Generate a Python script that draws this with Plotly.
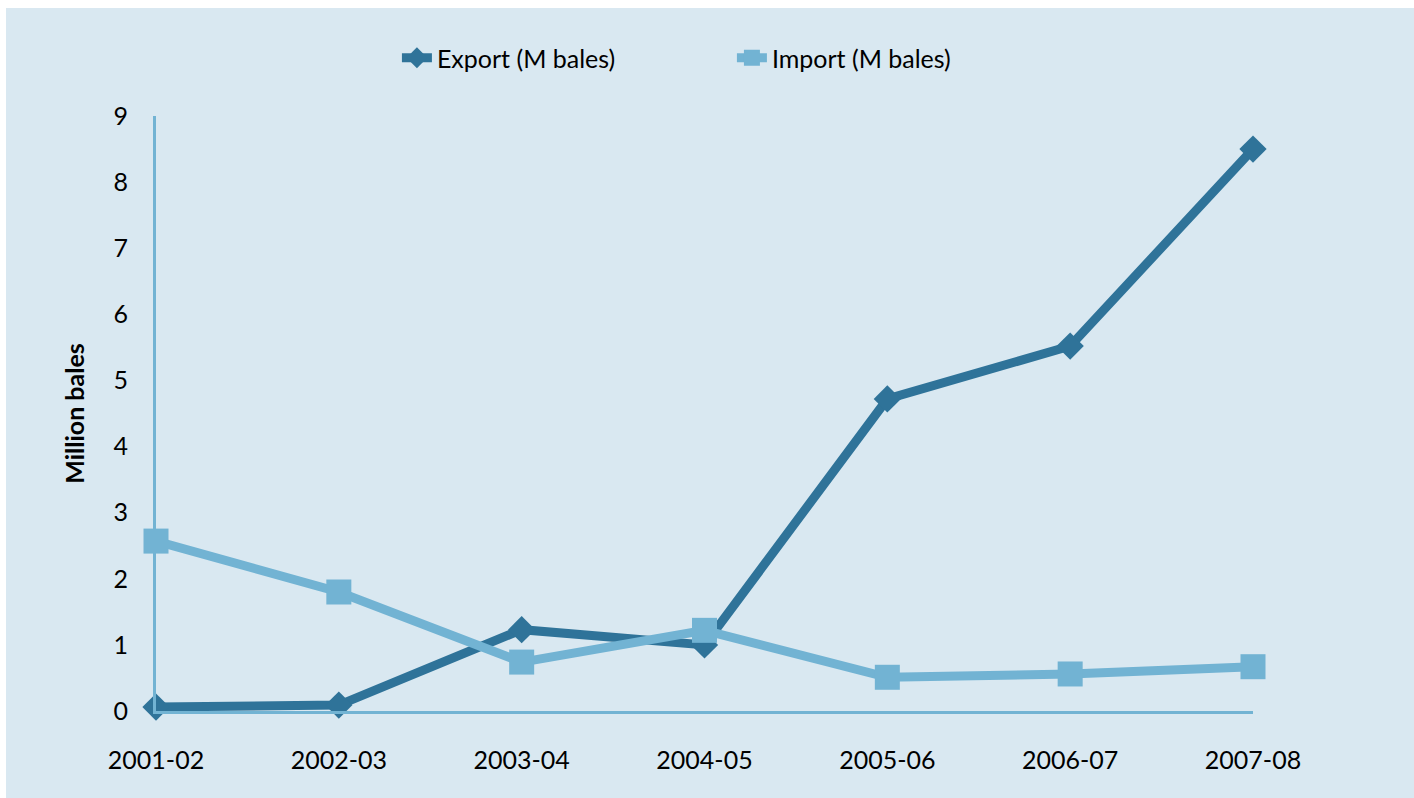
import plotly.graph_objects as go

# Cotton trade, million bales
seasons = ["2001-02", "2002-03", "2003-04", "2004-05", "2005-06", "2006-07", "2007-08"]
export_mb = [0.06, 0.09, 1.23, 1.0, 4.72, 5.52, 8.5]
import_mb = [2.57, 1.8, 0.74, 1.22, 0.51, 0.56, 0.67]
y_ticks = [0, 1, 2, 3, 4, 5, 6, 7, 8, 9]

BG = "#D9E8F1"
DARK = "#2F7399"
LIGHT = "#72B3D3"
FONT = "Lato"
FS = 25

W, H = 1414, 798
L, R, T, B = 156, 161, 116, 87
pw, ph = W - L - R, H - T - B

fig = go.Figure()
fig.add_trace(go.Scatter(
    x=seasons, y=export_mb, name="Export (M bales)", mode="lines+markers",
    line=dict(color=DARK, width=9),
    marker=dict(symbol="diamond", size=21, color=DARK),
    cliponaxis=False,
))
fig.add_trace(go.Scatter(
    x=seasons, y=import_mb, name="Import (M bales)", mode="lines+markers",
    line=dict(color=LIGHT, width=9),
    marker=dict(symbol="square", size=25, color=LIGHT),
    cliponaxis=False,
))

# light blue panel behind the whole chart, inset from the top-left corner
fig.add_shape(
    type="rect", xref="paper", yref="paper", layer="below",
    x0=(6 - L) / pw, x1=1.3, y0=-0.3, y1=(H - B - 8) / ph,
    fillcolor=BG, line=dict(width=0),
)

fig.update_layout(
    width=W, height=H,
    margin=dict(l=L, r=R, t=T, b=B, autoexpand=False),
    paper_bgcolor="white", plot_bgcolor="rgba(0,0,0,0)",
    font=dict(family=FONT, size=FS, color="black"),
    showlegend=True,
    legend=dict(orientation="h", x=0.525, xanchor="center", y=(H - B - 58) / ph,
                yanchor="middle", font=dict(size=FS), bgcolor="rgba(0,0,0,0)",
                entrywidth=290, entrywidthmode="pixels"),
    xaxis=dict(
        type="category", range=[0, 6], showgrid=False, zeroline=False,
        showline=True, linecolor=LIGHT, linewidth=3, ticks="",
        ticklabelstandoff=25, tickfont=dict(size=FS),
    ),
    yaxis=dict(
        range=[0, 9], tickvals=y_ticks, showgrid=False, zeroline=False,
        showline=True, linecolor=LIGHT, linewidth=3, ticks="",
        ticklabelstandoff=20, tickfont=dict(size=FS),
        title=dict(text="<b>Million bales</b>", font=dict(size=FS), standoff=22),
    ),
)

fig.write_html("out.html")
